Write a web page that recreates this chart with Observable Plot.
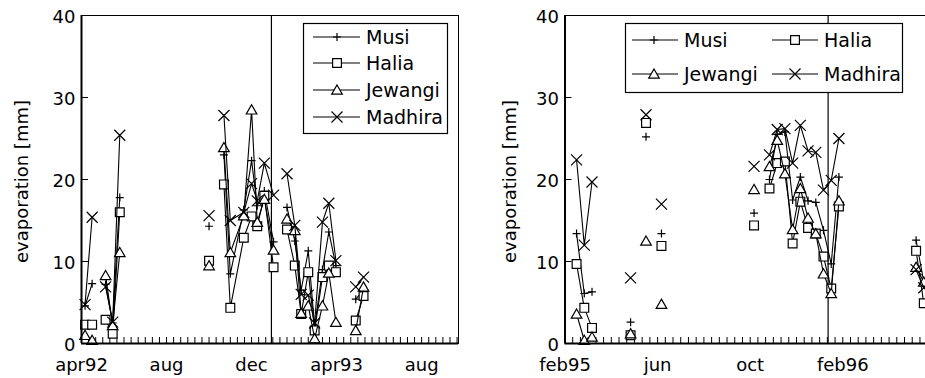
<!DOCTYPE html>
<html><head><meta charset="utf-8">
<script src="https://cdn.jsdelivr.net/npm/d3@7"></script>
<script src="https://cdn.jsdelivr.net/npm/@observablehq/plot@0.6"></script>
<style>
html,body{margin:0;padding:0;background:#fff;overflow:hidden;width:925px;height:378px;}
#wrap{position:relative;width:925px;height:378px;overflow:hidden;font-family:"DejaVu Sans",sans-serif;}
.panel{position:absolute;top:0;}
#legend{position:absolute;top:0;left:0;}
</style></head><body><div id="wrap"></div>
<script>
// ---------------- data ----------------
const seriesNames = ["Musi", "Halia", "Jewangi", "Madhira"];
const yTicks = [0, 10, 20, 30, 40];
const leftTickDekads = [0, 12, 24, 36, 48];
const leftTickLabels = ["apr92", "aug", "dec", "apr93", "aug"];
const rightTickDekads = [0, 12, 24, 36];
const rightTickLabels = ["feb95", "jun", "oct", "feb96"];
const yLabel = "evaporation [mm]";

// left panel (dekads since 1 Apr 1992); null = missing
const leftDekad   = [0.5, 1.5, 2.5, 3.4, 4.4, 5.4, 6.5, 18.0, 19.0, 20.1, 21.0, 22.9, 24.0, 24.8, 25.8, 27.1, 28.0, 29.0, 30.1, 31.0, 32.0, 32.9, 34.0, 34.9, 35.9, 37.0, 38.7, 39.8];
const leftMusi    = [4.6, 7.3, null, 7.2, 2.5, 17.8, null, 14.3, null, 23.0, 8.5, 16.3, 22.3, 16.8, 18.6, 12.4, null, 16.6, 12.5, 6.5, 11.3, 2.0, 9.0, 13.6, 9.5, null, 5.4, 6.5];
const leftHalia   = [2.3, 2.3, null, 2.9, 1.2, 16.0, null, 10.1, null, 19.4, 4.35, 12.9, 15.5, 14.3, 18.0, 9.3, null, 13.9, 9.5, 3.6, 8.7, 1.6, 8.1, 9.5, 8.7, null, 2.8, 5.8];
const leftJewangi = [1.0, 0.4, null, 8.3, 2.2, 11.1, null, 9.5, null, 23.9, 11.1, 15.6, 28.5, 14.8, 17.6, 11.4, null, 15.2, 13.8, 3.7, 4.6, 0.6, 4.6, 8.6, 2.6, null, 1.6, 6.9];
const leftMadhira = [4.75, 15.4, null, 6.9, 2.6, 25.4, null, 15.6, null, 27.8, 15.0, 16.0, 19.5, 17.4, 22.0, 18.1, null, 20.7, 14.4, 6.0, 5.9, 2.5, 14.8, 17.1, 10.1, null, 6.9, 8.1];
const leftYearLine = 26.8;

// right panel (dekads since 1 Feb 1995)
const rightDekad   = [1.5, 2.5, 3.5, 4.5, 8.5, 9.5, 10.5, 11.5, 12.5, 13.5, 24.5, 25.5, 26.5, 27.5, 28.5, 29.5, 30.5, 31.5, 32.5, 33.5, 34.5, 35.5, 36.5, 45.5, 46.5, 47.5];
const rightMusi    = [13.4, 6.1, 6.3, null, 2.6, null, 25.2, null, 13.4, null, 15.9, null, 20.0, 25.5, 25.8, 17.5, 20.3, 17.4, 17.2, 13.8, 9.7, 20.3, null, 12.6, 7.5, 8.0];
const rightHalia   = [9.7, 4.35, 1.9, null, 1.0, null, 26.9, null, 11.9, null, 14.4, null, 18.9, 22.0, 22.2, 12.2, 17.3, 14.1, 13.4, 10.6, 6.7, 16.7, null, 11.3, 4.9, 6.0];
const rightJewangi = [3.6, 0.4, 0.8, null, 1.2, null, 12.5, null, 4.8, null, 18.8, null, 21.6, 24.8, 20.7, 13.9, 18.9, 15.3, 13.4, 8.5, 6.1, 17.4, null, 9.3, 7.5, 7.0];
const rightMadhira = [22.4, 12.0, 19.7, null, 8.0, null, 27.9, null, 17.0, null, 21.6, null, 23.0, 26.1, 26.2, 22.0, 26.6, 23.5, 23.3, 18.7, 19.9, 25.0, null, 9.0, 6.8, 7.5];
const rightYearLine = 34.1;

// ---------------- symbols ----------------
const symbols = {
  Musi:    {draw(c) { const a = 4; c.moveTo(-a, 0); c.lineTo(a, 0); c.moveTo(0, -a); c.lineTo(0, a); }},
  Halia:   {draw(c) { const a = 4.4; c.moveTo(-a, -a); c.lineTo(a, -a); c.lineTo(a, a); c.lineTo(-a, a); c.closePath(); }},
  Jewangi: {draw(c) { c.moveTo(0, -5); c.lineTo(5.3, 4.2); c.lineTo(-5.3, 4.2); c.closePath(); }},
  Madhira: {draw(c) { const a = 5.5; c.moveTo(-a, -a); c.lineTo(a, a); c.moveTo(-a, a); c.lineTo(a, -a); }}
};
const symbolFill = {Musi: "none", Halia: "white", Jewangi: "white", Madhira: "none"};

function table(dekads, cols) {
  const rows = [];
  seriesNames.forEach((s, k) => {
    dekads.forEach((d, i) => rows.push({series: s, dekad: d, value: cols[k][i]}));
  });
  return rows;
}

function panel({left, width, marginLeft, xMax, rows, tickDekads, labels, yearLine, yLabelDx}) {
  const marginRight = 12, marginTop = 15, marginBottom = 35, height = 378;
  const frameW = width - marginLeft - marginRight;
  const frameH = height - marginTop - marginBottom;
  const marks = [
    Plot.tickX(d3.range(1, Math.floor(xMax) + 1), {x: d => d, stroke: "black", strokeWidth: 1, insetTop: frameH - 6}),
    Plot.tickY(yTicks.slice(1, -1), {y: d => d, stroke: "black", strokeWidth: 1, insetRight: frameW - 7}),
    Plot.ruleX([yearLine], {stroke: "black", strokeWidth: 1.2}),
    Plot.frame({stroke: "black", strokeWidth: 1})
  ];
  for (const s of seriesNames) {
    const data = rows.filter(r => r.series === s);
    marks.push(Plot.line(data, {x: "dekad", y: "value", stroke: "black", strokeWidth: 1.1}));
    marks.push(Plot.dot(data.filter(r => r.value != null), {x: "dekad", y: "value", symbol: symbols[s], r: 4, stroke: "black", strokeWidth: 1.2, fill: symbolFill[s]}));
  }
  marks.push(
    Plot.ruleX([0], {stroke: "black", strokeWidth: 2}),
    Plot.ruleY([0], {stroke: "black", strokeWidth: 2}),
    Plot.text(yTicks, {y: d => d, text: d => String(d), frameAnchor: "left", textAnchor: "end", lineAnchor: "middle", dx: -6, dy: 1.5, fontSize: 18, fill: "black"}),
    Plot.text(tickDekads.map((d, i) => ({d, t: labels[i]})), {x: "d", text: "t", frameAnchor: "bottom", textAnchor: "middle", lineAnchor: "middle", dy: 22, fontSize: 18, fill: "black"}),
    Plot.text([yLabel], {frameAnchor: "left", rotate: -90, textAnchor: "middle", lineAnchor: "middle", dx: yLabelDx, dy: 2, fontSize: 18, fill: "black"})
  );
  const svg = Plot.plot({
    width, height, marginLeft, marginRight, marginTop, marginBottom,
    x: {domain: [0, xMax], axis: null},
    y: {domain: [0, 40], axis: null},
    style: {fontFamily: "DejaVu Sans", background: "transparent", overflow: "visible", color: "black"},
    marks
  });
  svg.classList.add("panel");
  svg.style.left = left + "px";
  return svg;
}

const wrap = document.getElementById("wrap");
wrap.appendChild(panel({
  left: 0, width: 470, marginLeft: 81, xMax: 53.2,
  rows: table(leftDekad, [leftMusi, leftHalia, leftJewangi, leftMadhira]),
  tickDekads: leftTickDekads, labels: leftTickLabels, yearLine: leftYearLine, yLabelDx: -59
}));
wrap.appendChild(panel({
  left: 455, width: 532, marginLeft: 109.5, xMax: 53.2,
  rows: table(rightDekad, [rightMusi, rightHalia, rightJewangi, rightMadhira]),
  tickDekads: rightTickDekads, labels: rightTickLabels, yearLine: rightYearLine, yLabelDx: -54.5
}));

// ---------------- legends ----------------
const lg = d3.create("svg").attr("id", "legend").attr("width", 925).attr("height", 378);
function symPath(name) { const p = d3.path(); symbols[name].draw(p, 0); return p.toString(); }
function legendBox(x, y, w, h, entries) {
  lg.append("rect").attr("x", x).attr("y", y).attr("width", w).attr("height", h)
    .attr("fill", "white").attr("stroke", "black").attr("stroke-width", 1.2);
  for (const e of entries) {
    lg.append("line").attr("x1", e.x1).attr("x2", e.x2).attr("y1", e.y).attr("y2", e.y)
      .attr("stroke", "black").attr("stroke-width", 1.1);
    lg.append("path").attr("d", symPath(e.name)).attr("transform", `translate(${e.m},${e.y})`)
      .attr("stroke", "black").attr("stroke-width", 1.2).attr("fill", symbolFill[e.name]);
    lg.append("text").attr("x", e.t).attr("y", e.y + 7).text(e.name)
      .attr("font-family", "DejaVu Sans").attr("font-size", 19).attr("fill", "black");
  }
}
const leftRows = [37, 63, 90, 117];
legendBox(303.5, 23.5, 144, 110, seriesNames.map((n, i) => ({name: n, y: leftRows[i], x1: 313, x2: 360, m: 337, t: 366})));
const rCols = [{x1: 632, x2: 678, m: 654, t: 684}, {x1: 772, x2: 818, m: 795, t: 824}];
const rRows = [40, 74];
legendBox(625.5, 23.5, 277, 69, seriesNames.map((n, i) => ({name: n, y: rRows[Math.floor(i / 2)], ...rCols[i % 2]})));
wrap.appendChild(lg.node());
</script></body></html>
